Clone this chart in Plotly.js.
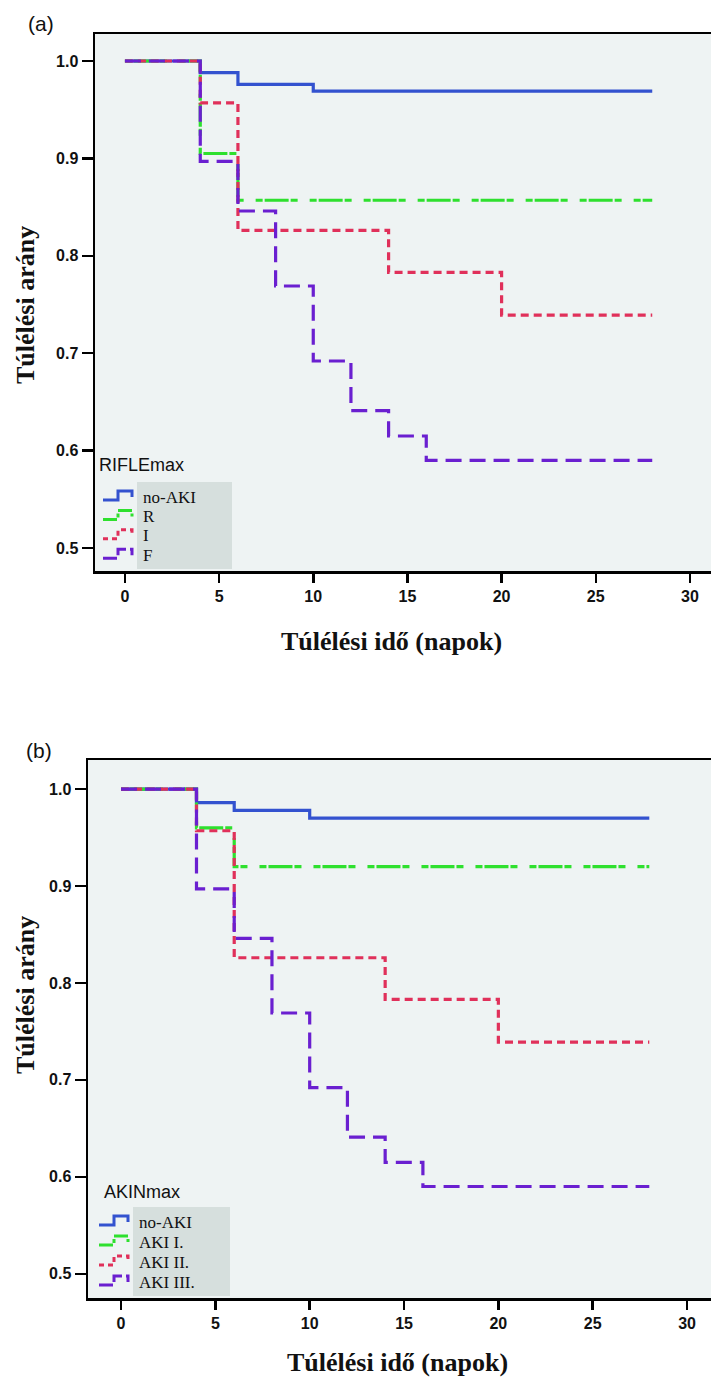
<!DOCTYPE html>
<html>
<head>
<meta charset="utf-8">
<script src="https://cdn.plot.ly/plotly-3.0.1.min.js"></script>
<style>html,body{margin:0;padding:0;background:#fff;}#chart{width:711px;height:1387px;}</style>
</head>
<body>
<div id="chart"></div>
<script>
// ---- Data ----
// Panel (a): RIFLEmax
const a_noAKI_t = [0, 4, 6, 10, 28];
const a_noAKI_s = [1.0, 0.988, 0.976, 0.969, 0.969];
const a_R_t = [0, 4, 6, 28];
const a_R_s = [1.0, 0.905, 0.857, 0.857];
const a_I_t = [0, 4, 6, 14, 20, 28];
const a_I_s = [1.0, 0.957, 0.826, 0.783, 0.739, 0.739];
const a_F_t = [0, 4, 6, 8, 10, 12, 14, 16, 28];
const a_F_s = [1.0, 0.897, 0.846, 0.769, 0.692, 0.641, 0.615, 0.590, 0.590];
const a_names = ["no-AKI", "R", "I", "F"];
const a_legendTitle = "RIFLEmax";

// Panel (b): AKINmax
const b_noAKI_t = [0, 4, 6, 10, 28];
const b_noAKI_s = [1.0, 0.986, 0.978, 0.970, 0.970];
const b_AKI1_t = [0, 4, 6, 28];
const b_AKI1_s = [1.0, 0.960, 0.920, 0.920];
const b_AKI2_t = [0, 4, 6, 14, 20, 28];
const b_AKI2_s = [1.0, 0.957, 0.826, 0.783, 0.739, 0.739];
const b_AKI3_t = [0, 4, 6, 8, 10, 12, 14, 16, 28];
const b_AKI3_s = [1.0, 0.897, 0.846, 0.769, 0.692, 0.641, 0.615, 0.590, 0.590];
const b_names = ["no-AKI", "AKI I.", "AKI II.", "AKI III."];
const b_legendTitle = "AKINmax";

const xTicks = [0, 5, 10, 15, 20, 25, 30];
const yTicks = [0.5, 0.6, 0.7, 0.8, 0.9, 1.0];
const yTickText = ["0.5", "0.6", "0.7", "0.8", "0.9", "1.0"];
const yTitle = "Túlélési arány";
const xTitle = "Túlélési idő (napok)";

// ---- Styles ----
const styles = [
  {color: "#3352cf", dash: "solid"},
  {color: "#2ee02e", dash: "7px,2px,24px,2px,7px,12px"},
  {color: "#e0305a", dash: "8px,5px"},
  {color: "#6a1fd0", dash: "16px,8px"}
];

function mk(t, s, name, i, xa, ya) {
  return {
    type: "scatter", mode: "lines", x: t, y: s, name: name,
    xaxis: xa, yaxis: ya, showlegend: false,
    line: {shape: "hv", width: 3.2, color: styles[i].color, dash: styles[i].dash},
    hoverinfo: "skip"
  };
}

const traces = [
  mk(a_noAKI_t, a_noAKI_s, a_names[0], 0, "x", "y"),
  mk(a_R_t, a_R_s, a_names[1], 1, "x", "y"),
  mk(a_I_t, a_I_s, a_names[2], 2, "x", "y"),
  mk(a_F_t, a_F_s, a_names[3], 3, "x", "y"),
  mk(b_noAKI_t, b_noAKI_s, b_names[0], 0, "x2", "y2"),
  mk(b_AKI1_t, b_AKI1_s, b_names[1], 1, "x2", "y2"),
  mk(b_AKI2_t, b_AKI2_s, b_names[2], 2, "x2", "y2"),
  mk(b_AKI3_t, b_AKI3_s, b_names[3], 3, "x2", "y2")
];

const W = 711, H = 1387;
const px = v => v / W;
const py = v => (H - v) / H;

const tickFont = {family: "Liberation Sans, Arial, sans-serif", size: 16, color: "#111", weight: "bold"};
function xax(dom, rng, anchor) {
  return {domain: dom, range: rng, anchor: anchor, tickvals: xTicks, ticks: "outside",
    ticklen: 9, tickwidth: 2.5, tickcolor: "#000", showline: true, linewidth: 2.5,
    linecolor: "#000", mirror: true, showgrid: false, zeroline: false, tickfont: tickFont,
    fixedrange: true};
}
function yax(dom, rng, anchor) {
  return {domain: dom, range: rng, anchor: anchor, tickvals: yTicks, ticktext: yTickText,
    ticks: "outside", ticklen: 11, tickwidth: 2.5, tickcolor: "#000", showline: true,
    linewidth: 2.5, linecolor: "#000", mirror: false, showgrid: false, zeroline: false,
    tickfont: tickFont, fixedrange: true};
}

const titleFont = {family: "Liberation Serif, Times New Roman, serif", size: 26, color: "#111", weight: "bold"};
const legTitleFont = {family: "Liberation Sans, Arial, sans-serif", size: 18, color: "#111"};
const legFont = {family: "Liberation Serif, Times New Roman, serif", size: 17, color: "#111"};

function ann(text, x, y, font, extra) {
  return Object.assign({text: text, xref: "paper", yref: "paper", x: px(x), y: py(y),
    xanchor: "center", yanchor: "middle", showarrow: false, font: font}, extra || {});
}

// legend (drawn in paper coordinates)
const shapes = [];
const annotations = [
  ann("(a)", 41, 23, {family: "Liberation Sans, Arial, sans-serif", size: 21, color: "#111"}),
  ann("(b)", 39, 750, {family: "Liberation Sans, Arial, sans-serif", size: 21, color: "#111"}),
  ann(yTitle, 25, 305, titleFont, {textangle: -90}),
  ann(yTitle, 25, 995, titleFont, {textangle: -90}),
  ann(xTitle, 391, 641, titleFont),
  ann(xTitle, 397, 1362, titleFont)
];
function addLegend(title, names, titleX, titleY, boxX0, boxX1, boxY0, boxY1, rowY0, rowStep) {
  shapes.push({type: "rect", xref: "paper", yref: "paper", x0: px(boxX0), x1: px(boxX1),
    y0: py(boxY1), y1: py(boxY0), fillcolor: "#d6dfdd", line: {width: 0}, layer: "below"});
  annotations.push(ann(title, titleX, titleY, legTitleFont, {xanchor: "left"}));
  names.forEach((n, i) => {
    const yc = rowY0 + i * rowStep;
    const yb = yc + 3, yt = yc - 6;
    const gx = boxX0 - 34;
    shapes.push({type: "path", xref: "paper", yref: "paper",
      path: "M" + px(gx) + "," + py(yb) + " L" + px(gx + 15) + "," + py(yb) + " L" + px(gx + 15) + "," + py(yt) +
            " L" + px(gx + 29) + "," + py(yt) + " L" + px(gx + 29) + "," + py(yt + 6),
      line: {color: styles[i].color, width: 3, dash: i === 0 ? "solid" : (i === 1 ? "14px,3px,4px,3px" : (i === 2 ? "5px,4px" : "14px,4px"))}});
    annotations.push(ann(n, boxX0 + 4, yc, legFont, {xanchor: "left"}));
  });
}
addLegend(a_legendTitle, a_names, 97, 465, 137, 232, 482, 569, 497, 19.4);
addLegend(b_legendTitle, b_names, 102, 1192, 133, 230, 1207, 1296, 1222, 20);

const layout = {
  width: W, height: H,
  margin: {l: 0, r: 0, t: 0, b: 0},
  paper_bgcolor: "#ffffff",
  plot_bgcolor: "#eef3f3",
  showlegend: false,
  xaxis: xax([px(95), 1], [-1.59, 31.12], "y"),
  yaxis: yax([py(571), py(34)], [0.4764, 1.0277], "x"),
  xaxis2: xax([px(88), 1], [-1.75, 31.27], "y2"),
  yaxis2: yax([py(1298), py(760)], [0.475, 1.030], "x2"),
  shapes: shapes,
  annotations: annotations
};

Plotly.newPlot("chart", traces, layout, {displayModeBar: false, staticPlot: true});
</script>
</body>
</html>
